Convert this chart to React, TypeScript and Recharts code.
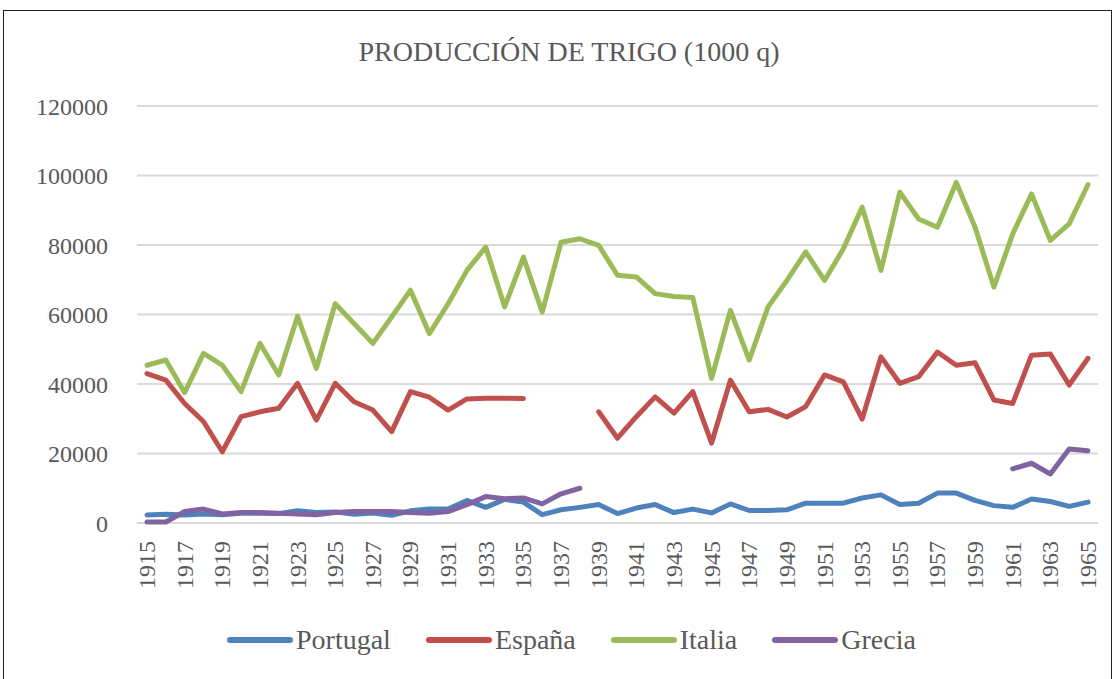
import { LineChart, Line, XAxis, YAxis, CartesianGrid, Legend } from 'recharts'

const years = [
  1915, 1916, 1917, 1918, 1919, 1920, 1921, 1922, 1923, 1924, 1925, 1926, 1927, 1928, 1929, 1930, 1931,
  1932, 1933, 1934, 1935, 1936, 1937, 1938, 1939, 1940, 1941, 1942, 1943, 1944, 1945, 1946, 1947, 1948,
  1949, 1950, 1951, 1952, 1953, 1954, 1955, 1956, 1957, 1958, 1959, 1960, 1961, 1962, 1963, 1964, 1965,
]

const portugal = [
  2300, 2500, 2300, 2600, 2400, 2800, 2800, 2700, 3500, 3000, 3200, 2500, 2900, 2200, 3500, 4000, 4000,
  6500, 4500, 6800, 6000, 2400, 3800, 4500, 5300, 2700, 4300, 5300, 3000, 4000, 2900, 5500, 3600, 3600,
  3800, 5700, 5700, 5700, 7200, 8100, 5300, 5700, 8600, 8600, 6500, 5000, 4500, 6900, 6200, 4800, 6000,
]

const espana: (number | null)[] = [
  43000, 41100, 34400, 29200, 20500, 30600, 32000, 33000, 40200, 29600, 40200, 34900, 32500, 26300, 37800,
  36200, 32500, 35700, 35900, 35900, 35800, null, null, null, 32000, 24400, 30600, 36300, 31600, 37800,
  23000, 41100, 32000, 32700, 30500, 33500, 42600, 40600, 29900, 47800, 40200, 42100, 49200, 45400, 46100,
  35400, 34400, 48300, 48600, 39700, 47400,
]

const italia = [
  45400, 46900, 37500, 48800, 45400, 37800, 51700, 42600, 59500, 44500, 63100, 57400, 51700, 59300, 67000,
  54500, 63100, 72700, 79400, 62200, 76500, 60700, 80800, 81800, 79900, 71300, 70800, 66000, 65200, 64900,
  41600, 61200, 46900, 62200, 69800, 78000, 69800, 78900, 90900, 72700, 95200, 87500, 85100, 98000, 85100,
  67900, 83200, 94700, 81300, 86100, 97400,
]

const grecia: (number | null)[] = [
  300, 300, 3300, 4000, 2600, 3000, 3000, 2800, 2600, 2400, 3000, 3300, 3300, 3300, 3000, 2800, 3300,
  5300, 7600, 7000, 7200, 5500, 8400, 10000, null, null, null, null, null, null, null, null, null, null,
  null, null, null, null, null, null, null, null, null, null, null, null, 15600, 17200, 14100, 21300, 20800,
]

const yTicks = [0, 20000, 40000, 60000, 80000, 100000, 120000]

const series = [
  { key: 'Portugal', color: '#4F81BD' },
  { key: 'España', color: '#C0504D' },
  { key: 'Italia', color: '#9BBB59' },
  { key: 'Grecia', color: '#8064A2' },
]

const data = years.map((year, i) => ({
  year,
  Portugal: portugal[i],
  España: espana[i],
  Italia: italia[i],
  Grecia: grecia[i],
}))

const font = '"Liberation Serif", "Times New Roman", serif'
const textColor = '#595959'

function XTick({ x, y, payload }: any) {
  return (
    <text
      x={x}
      y={y}
      transform={`rotate(-90 ${x} ${y})`}
      textAnchor="end"
      dominantBaseline="central"
      fontFamily={font}
      fontSize={24}
      fill={textColor}
    >
      {payload.value}
    </text>
  )
}

function LegendContent() {
  return (
    <div style={{ display: 'flex', alignItems: 'center', height: 40, paddingLeft: 226, fontFamily: font, fontSize: 28, color: textColor }}>
      {series.map((s) => (
        <div key={s.key} style={{ display: 'flex', alignItems: 'center', marginRight: 34 }}>
          <svg width={68} height={10}>
            <line x1={4} y1={5} x2={64} y2={5} stroke={s.color} strokeWidth={6} strokeLinecap="round" />
          </svg>
          <span style={{ marginLeft: 2 }}>{s.key}</span>
        </div>
      ))}
    </div>
  )
}

export default function App() {
  return (
    <div style={{ position: 'absolute', left: 0, top: 0, width: 1118, height: 679, background: '#fff', overflow: 'hidden' }}>
      <div style={{ position: 'absolute', left: 3, top: 10, width: 1107, height: 700, border: '1.5px solid #222' }} />
      <div
        style={{
          position: 'absolute', left: 0, top: 36, width: 1138, textAlign: 'center',
          fontFamily: font, fontSize: 28, color: textColor,
        }}
      >
        PRODUCCIÓN DE TRIGO (1000 q)
      </div>
      <LineChart width={1118} height={679} data={data} margin={{ top: 106, right: 20, left: 0, bottom: 36 }}>
        <CartesianGrid vertical={false} stroke="#d9d9d9" strokeWidth={2} />
        <XAxis
          dataKey="year"
          interval={1}
          tick={<XTick />}
          tickLine={false}
          axisLine={false}
          tickSize={0}
          tickMargin={18}
          height={80}
          padding={{ left: 10, right: 10 }}
        />
        <YAxis
          domain={[0, 120000]}
          ticks={yTicks}
          width={137}
          tickLine={false}
          axisLine={false}
          tickSize={0}
          tickMargin={29}
          tick={{ fontFamily: font, fontSize: 24, fill: textColor }}
        />
        <Legend verticalAlign="bottom" content={<LegendContent />} wrapperStyle={{ left: 0, top: 620, bottom: 'auto', width: 1118 }} />
        {series.map((s) => (
          <Line
            key={s.key}
            dataKey={s.key}
            stroke={s.color}
            strokeWidth={5}
            dot={false}
            strokeLinejoin="round"
            strokeLinecap="round"
            isAnimationActive={false}
          />
        ))}
      </LineChart>
    </div>
  )
}
